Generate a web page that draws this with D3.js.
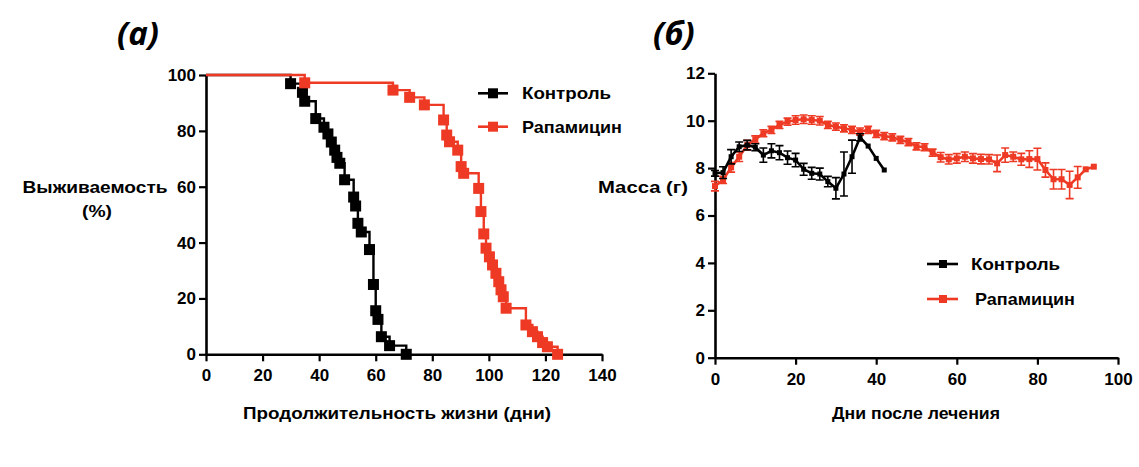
<!DOCTYPE html>
<html><head><meta charset="utf-8">
<script src="https://cdn.jsdelivr.net/npm/d3@7"></script>
<style>
body{margin:0;background:#fff}
text{font-family:"Liberation Sans",Arial,Helvetica,sans-serif;font-weight:bold;fill:#000}
</style>
</head><body>
<svg id="c" width="1139" height="467"></svg>
<script>
// ---------- Panel (a): Kaplan-Meier survival ----------
const survXTicks = [0, 20, 40, 60, 80, 100, 120, 140];
const survYTicks = [0, 20, 40, 60, 80, 100];
const controlSurvTime = [29.9, 34.1, 34.9, 38.8, 41.7, 43.1, 44.3, 45.5, 46.3, 47.3, 49.0, 52.2, 52.9, 53.7, 54.9, 57.8, 59.2, 60.0, 60.8, 62.0, 64.9, 70.8];
const controlSurv     = [96.9, 93.8, 90.6, 84.4, 81.3, 78.9, 76.0, 73.1, 70.5, 68.4, 62.5, 56.3, 53.1, 46.9, 43.8, 37.5, 25.0, 15.6, 12.5, 6.3, 3.1, 0];
const rapaSurvTime = [34.9, 66.1, 72.0, 77.2, 84.0, 85.1, 86.1, 89.0, 90.2, 91.1, 96.4, 97.2, 98.2, 99.0, 100.2, 101.3, 102.5, 103.5, 104.3, 105.1, 106.1, 113.1, 115.4, 117.2, 119.0, 120.7, 124.3];
const rapaSurv     = [97.2, 94.6, 92.0, 89.3, 83.9, 78.5, 76.1, 73.1, 67.2, 64.8, 59.4, 51.1, 43.1, 38.0, 34.9, 32.0, 29.0, 26.0, 23.1, 20.6, 16.5, 10.5, 8.1, 6.3, 4.2, 2.7, 0];

// ---------- Panel (б): body mass ----------
const massXTicks = [0, 20, 40, 60, 80, 100];
const massYTicks = [0, 2, 4, 6, 8, 10, 12];
const ctrlDays = [0, 2, 4, 6, 8, 10, 12, 14, 16, 18, 20, 22, 24, 26, 28, 30, 32, 34, 36, 38, 40, 42];
const ctrlMass = [7.78, 7.81, 8.48, 8.90, 8.97, 8.88, 8.55, 8.73, 8.65, 8.44, 8.34, 7.95, 7.78, 7.75, 7.43, 7.15, 7.75, 8.48, 9.30, 8.93, 8.41, 7.92];
const ctrlErr  = [0.12, 0.25, 0.3, 0.2, 0.2, 0.15, 0.3, 0.3, 0.3, 0.28, 0.28, 0.25, 0.25, 0.25, 0.22, 0.45, 0.93, 0.7, 0.15, 0, 0, 0];
const rapaDays = [0, 2, 4, 6, 8, 10, 12, 14, 16, 18, 20, 22, 24, 26, 28, 30, 32, 34, 36, 38, 40, 42, 44, 46, 48, 50, 52, 54, 56, 58, 60, 62, 64, 66, 68, 70, 72, 74, 76, 78, 80, 82, 84, 86, 88, 90, 92, 94];
const rapaMass = [7.24, 7.50, 8.03, 8.48, 8.97, 9.21, 9.47, 9.61, 9.82, 9.96, 10.03, 10.06, 10.03, 10.0, 9.82, 9.75, 9.68, 9.61, 9.54, 9.61, 9.44, 9.35, 9.30, 9.19, 9.10, 8.92, 8.88, 8.65, 8.46, 8.37, 8.41, 8.48, 8.41, 8.38, 8.37, 8.20, 8.55, 8.48, 8.37, 8.38, 8.38, 7.92, 7.53, 7.53, 7.29, 7.61, 7.95, 8.06];
const rapaErr  = [0.2, 0.15, 0.2, 0.2, 0.2, 0.15, 0.15, 0.15, 0.15, 0.15, 0.18, 0.18, 0.18, 0.18, 0.15, 0.15, 0.15, 0.15, 0.15, 0.15, 0.15, 0.15, 0.15, 0.15, 0.15, 0.15, 0.15, 0.15, 0.2, 0.2, 0.2, 0.2, 0.2, 0.2, 0.2, 0.35, 0.3, 0.2, 0.25, 0.35, 0.46, 0.3, 0.41, 0.41, 0.58, 0.46, 0, 0];

const seriesNames = ["Контроль", "Рапамицин"];
const RED = "#ee3a24", BLACK = "#000";

const svg = d3.select("#c");

function label(x, y, txt, size, anchor, width) {
  const t = svg.append("text").attr("x", x).attr("y", y).attr("dy", "0.36em")
    .attr("text-anchor", anchor).style("font-size", size + "px").text(txt);
  if (width) t.attr("textLength", width).attr("lengthAdjust", "spacingAndGlyphs");
  return t;
}

// ======== Panel (a) ========
const xA = d3.scaleLinear().domain([0, 140]).range([206, 602]);
const yA = d3.scaleLinear().domain([0, 100]).range([354.3, 75]);

function axisStyle(g) {
  g.selectAll("path.domain").attr("stroke", "#000").attr("stroke-width", 2.6);
  g.selectAll(".tick line").attr("stroke", "#000").attr("stroke-width", 2.2);
  g.selectAll(".tick text").style("font-size", "17px").style("font-weight", "bold")
    .style("font-family", '"Liberation Sans",Arial,sans-serif').attr("fill", "#000");
}

const gxA = svg.append("g").attr("transform", `translate(0,${yA(0)})`)
  .call(d3.axisBottom(xA).tickValues(survXTicks).tickSize(7).tickSizeOuter(0).tickPadding(8));
axisStyle(gxA);
const gyA = svg.append("g").attr("transform", `translate(${xA(0)},0)`)
  .call(d3.axisLeft(yA).tickValues(survYTicks).tickSize(7).tickSizeOuter(0).tickPadding(3));
axisStyle(gyA);

const kmLine = d3.line().x(d => xA(d[0])).y(d => yA(d[1])).curve(d3.curveStepAfter);
function kmPoints(times, surv) {
  const pts = [[0, 100]];
  times.forEach((t, i) => pts.push([t, surv[i]]));
  return pts;
}
function drawKM(times, surv, color) {
  svg.append("path").attr("d", kmLine(kmPoints(times, surv)))
    .attr("fill", "none").attr("stroke", color).attr("stroke-width", 2.4);
  svg.append("g").selectAll("rect").data(times.map((t, i) => [t, surv[i]])).join("rect")
    .attr("x", d => xA(d[0]) - 5.5).attr("y", d => yA(d[1]) - 5.5)
    .attr("width", 11).attr("height", 11).attr("fill", color);
}
drawKM(controlSurvTime, controlSurv, BLACK);
drawKM(rapaSurvTime, rapaSurv, RED);

// legend (a)
[[93.3, BLACK, 89], [126.7, RED, 100]].forEach(([ly, c, w], i) => {
  svg.append("line").attr("x1", 478).attr("x2", 508).attr("y1", ly).attr("y2", ly)
    .attr("stroke", c).attr("stroke-width", 2.6);
  svg.append("rect").attr("x", 488).attr("y", ly - 5).attr("width", 10).attr("height", 10).attr("fill", c);
  label(522, ly, seriesNames[i], 17, "start", w);
});

label(95, 187, "Выживаемость", 17, "middle", 145);
label(97, 211, "(%)", 17, "middle", 30);
label(397, 413, "Продолжительность жизни (дни)", 17, "middle", 308);

// ======== Panel (б) ========
const xB = d3.scaleLinear().domain([0, 100]).range([715, 1118]);
const yB = d3.scaleLinear().domain([0, 12]).range([357.7, 73.3]);

const gxB = svg.append("g").attr("transform", `translate(0,${yB(0)})`)
  .call(d3.axisBottom(xB).tickValues(massXTicks).tickSize(7).tickSizeOuter(0).tickPadding(8));
axisStyle(gxB);
const gyB = svg.append("g").attr("transform", `translate(${xB(0)},0)`)
  .call(d3.axisLeft(yB).tickValues(massYTicks).tickSize(7).tickSizeOuter(0).tickPadding(3));
axisStyle(gyB);

const massLine = d3.line().x(d => xB(d[0])).y(d => yB(d[1]));
function drawMass(days, mass, err, color, ms) {
  const pts = days.map((d, i) => [d, mass[i], err[i]]);
  const g = svg.append("g");
  g.selectAll("path.eb").data(pts.filter(p => p[2] > 0)).join("path")
    .attr("d", p => {
      const x = xB(p[0]), y1 = yB(p[1] + p[2]), y2 = yB(p[1] - p[2]);
      return `M${x - 4},${y1}H${x + 4}M${x},${y1}V${y2}M${x - 4},${y2}H${x + 4}`;
    })
    .attr("fill", "none").attr("stroke", color).attr("stroke-width", 1.6);
  g.append("path").attr("d", massLine(pts)).attr("fill", "none")
    .attr("stroke", color).attr("stroke-width", 2.6);
  g.selectAll("rect").data(pts).join("rect")
    .attr("x", p => xB(p[0]) - ms / 2).attr("y", p => yB(p[1]) - ms / 2)
    .attr("width", ms).attr("height", ms).attr("fill", color);
}
drawMass(rapaDays, rapaMass, rapaErr, RED, 6);
drawMass(ctrlDays, ctrlMass, ctrlErr, BLACK, 5);

// legend (б)
[[264, BLACK, 971, 89], [299, RED, 975, 100]].forEach(([ly, c, tx, w], i) => {
  svg.append("line").attr("x1", 927).attr("x2", 958).attr("y1", ly).attr("y2", ly)
    .attr("stroke", c).attr("stroke-width", 2.6);
  svg.append("rect").attr("x", 939).attr("y", ly - 4).attr("width", 8).attr("height", 8).attr("fill", c);
  label(tx, ly, seriesNames[i], 17, "start", w);
});

label(688, 187, "Масса (г)", 17, "end", 90);
label(916, 413, "Дни после лечения", 17, "middle", 168);

// panel letters
svg.append("text").attr("x", 117).attr("y", 45)
  .style("font-family", '"Open Sans",sans-serif').style("font-style", "italic")
  .style("font-weight", "bold").style("font-size", "33px").text("(а)");
svg.append("text").attr("x", 653).attr("y", 45)
  .style("font-family", '"Open Sans",sans-serif').style("font-style", "italic")
  .style("font-weight", "bold").style("font-size", "33px").text("(б)");
</script>
</body></html>
